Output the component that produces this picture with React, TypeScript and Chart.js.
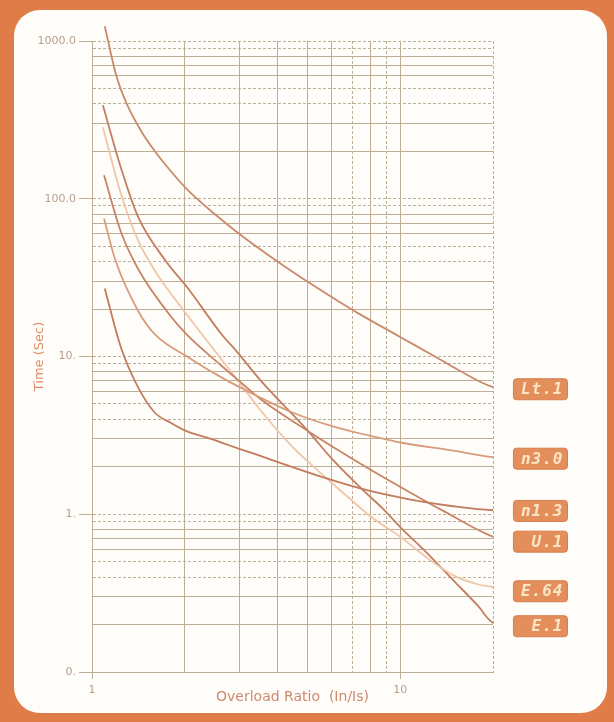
import React, { useEffect, useRef } from "react";
import { Chart, registerables } from "chart.js";

Chart.register(...registerables);

// ---- Data ----
const SERIES_NAMES = ["Lt.1", "n3.0", "n1.3", "U.1", "E.64", "E.1"];

const LT1_X = [1.1, 1.2, 1.3, 1.45, 1.6, 1.8, 2.05, 2.5, 3.0, 3.73, 4.73, 6.06, 7.41, 10, 13.7, 15.3, 20, 23.3];
const LT1_Y = [1240, 600, 395, 265, 200, 150, 113, 80, 60, 44, 32, 23.5, 18.5, 13.3, 9.4, 8.3, 6.4, 6.2];

const N30_X = [1.094, 1.19, 1.41, 1.6, 2.05, 2.62, 3.51, 4.49, 5.79, 7.41, 8.8, 10, 14.5, 20, 23.3];
const N30_Y = [75, 41, 19.5, 13.8, 9.9, 7.4, 5.5, 4.4, 3.7, 3.25, 3.02, 2.85, 2.55, 2.3, 2.25];

const N13_X = [1.1, 1.24, 1.41, 1.6, 1.8, 2.0, 2.5, 3.0, 3.5, 4.5, 5.8, 7.8, 10.8, 15.7, 20, 23.3];
const N13_Y = [27, 11.5, 6.4, 4.4, 3.8, 3.4, 2.95, 2.6, 2.35, 1.98, 1.68, 1.42, 1.24, 1.11, 1.06, 1.05];

const U1_X = [1.094, 1.24, 1.41, 1.8, 2.05, 2.62, 3.0, 3.51, 5.1, 7.41, 10.8, 13.8, 20, 23.3];
const U1_Y = [141, 62, 36, 18, 13.5, 8.8, 7, 5.4, 3.3, 2.1, 1.37, 1.05, 0.72, 0.67];

const E64_X = [1.085, 1.15, 1.24, 1.41, 1.6, 2.05, 2.33, 2.98, 3.51, 4.49, 5.79, 6.88, 8.0, 10, 12.2, 14.9, 17.8, 20, 23.3];
const E64_Y = [284, 184, 108, 54.6, 35, 18, 13, 7.0, 4.6, 2.65, 1.68, 1.25, 0.97, 0.72, 0.53, 0.41, 0.36, 0.345, 0.325];

const E1_X = [1.085, 1.15, 1.24, 1.41, 1.74, 2.05, 2.62, 2.98, 3.51, 5.0, 6.06, 7.41, 8.8, 10, 12.2, 14.9, 17.8, 20, 23.3];
const E1_Y = [392, 261, 158, 77, 40, 27, 14, 10.5, 7.1, 3.4, 2.2, 1.48, 1.08, 0.83, 0.57, 0.38, 0.265, 0.205, 0.195];

const SERIES_X = [LT1_X, N30_X, N13_X, U1_X, E64_X, E1_X];
const SERIES_Y = [LT1_Y, N30_Y, N13_Y, U1_Y, E64_Y, E1_Y];
const SERIES_COLORS = ["#c98a6c", "#d89c7c", "#c27b5c", "#c88466", "#efc6a8", "#c37d60"];

// Grid / tick values
const X_GRID = [1, 2, 3, 4, 5, 6, 7, 8, 9, 10, 20];
const X_TICK_LABELS: Record<string, string> = { "1": "1", "10": "10" };
const Y_DECADES = [0.1, 1, 10, 100];
const Y_MANTISSAS = [1, 2, 3, 4, 5, 6, 7, 8, 9];
const Y_TICK_LABELS: Record<string, string> = {
  "1000": "1000.0",
  "100": "100.0",
  "10": "10.",
  "1": "1.",
  "0.1": "0.",
};
const X_DASHED = [7, 9, 20];
const Y_DASHED_MANTISSA = [1, 4, 5, 9];

const Y_GRID: number[] = [];
Y_DECADES.forEach((d) => Y_MANTISSAS.forEach((m) => Y_GRID.push(Number((m * d).toPrecision(3)))));
Y_GRID.push(1000);

const GRID_COLOR = "#bdae98";
const TICK_COLOR = "#b89d8d";

function mantissa(v: number) {
  const e = Math.floor(Math.log10(v) + 1e-9);
  return Math.round(v / Math.pow(10, e));
}

const labelPlugin = {
  id: "curveLabels",
  afterDatasetsDraw(chart: any) {
    const ctx = chart.ctx as CanvasRenderingContext2D;
    chart.data.datasets.forEach((ds: any, i: number) => {
      const meta = chart.getDatasetMeta(i);
      const p = meta.data[meta.data.length - 1];
      if (!p) return;
      const w = 54;
      const h = 21;
      const x = p.x;
      const y = p.y;
      ctx.save();
      ctx.beginPath();
      (ctx as any).roundRect(x, y - h / 2, w, h, 3);
      ctx.fillStyle = "#e48e5c";
      ctx.fill();
      ctx.lineWidth = 1;
      ctx.strokeStyle = "#d97c4c";
      ctx.stroke();
      ctx.fillStyle = "#fae6c4";
      ctx.font = 'italic bold 16px "DejaVu Sans Mono"';
      ctx.textAlign = "right";
      ctx.textBaseline = "middle";
      try {
        (ctx as any).letterSpacing = "1px";
      } catch (e) {}
      ctx.fillText(ds.label, x + w - 4, y + 1);
      ctx.restore();
    });
  },
};

export default function App() {
  const canvasRef = useRef<HTMLCanvasElement | null>(null);

  useEffect(() => {
    const canvas = canvasRef.current;
    if (!canvas) return;
    const datasets = SERIES_NAMES.map((name, i) => ({
      label: name,
      data: SERIES_X[i].map((x, j) => ({ x, y: SERIES_Y[i][j] })),
      borderColor: SERIES_COLORS[i],
      backgroundColor: SERIES_COLORS[i],
      borderWidth: 1.8,
      pointRadius: 0,
      cubicInterpolationMode: "monotone" as const,
      clip: false as any,
      fill: false,
    }));

    const chart = new Chart(canvas, {
      type: "line",
      data: { datasets },
      plugins: [labelPlugin],
      options: {
        animation: false,
        responsive: false,
        events: [],
        layout: { padding: { left: 0, right: 121, top: 41, bottom: 0 } },
        plugins: { legend: { display: false }, tooltip: { enabled: false } },
        scales: {
          x: {
            type: "logarithmic",
            min: 1,
            max: 20,
            afterBuildTicks: (s: any) => {
              s.ticks = X_GRID.map((v) => ({ value: v }));
            },
            afterFit: (s: any) => {
              s.height = 50;
            },
            ticks: {
              autoSkip: false,
              maxRotation: 0,
              padding: 5,
              color: TICK_COLOR,
              font: { family: "DejaVu Sans", size: 11 },
              callback: (v: any) => X_TICK_LABELS[String(v)] ?? "",
            },
            grid: {
              color: GRID_COLOR,
              lineWidth: 1,
              tickLength: 7,
              tickColor: (c: any) =>
                c.tick && (c.tick.value === 1 || c.tick.value === 10) ? GRID_COLOR : "rgba(0,0,0,0)",
            },
            border: {
              display: true,
              color: GRID_COLOR,
              dash: (c: any) => (c.tick && X_DASHED.includes(c.tick.value) ? [3, 2] : []),
            },
            title: {
              display: true,
              text: "Overload Ratio  (In/Is)",
              color: "#cc8870",
              font: { family: "DejaVu Sans", size: 14 },
              padding: { top: 0, bottom: 16 },
            },
          },
          y: {
            type: "logarithmic",
            min: 0.1,
            max: 1000,
            afterBuildTicks: (s: any) => {
              s.ticks = Y_GRID.map((v) => ({ value: v }));
            },
            afterFit: (s: any) => {
              s.width = 92;
            },
            ticks: {
              autoSkip: false,
              padding: 3,
              color: TICK_COLOR,
              font: { family: "DejaVu Sans", size: 11 },
              callback: (v: any) => Y_TICK_LABELS[String(v)] ?? "",
            },
            grid: {
              color: GRID_COLOR,
              lineWidth: 1,
              tickLength: 13,
              tickColor: (c: any) =>
                c.tick && Y_TICK_LABELS[String(c.tick.value)] ? GRID_COLOR : "rgba(0,0,0,0)",
            },
            border: {
              display: true,
              color: GRID_COLOR,
              dash: (c: any) =>
                c.tick && Y_DASHED_MANTISSA.includes(mantissa(c.tick.value)) ? [3, 2] : [],
            },
            title: {
              display: true,
              text: "Time (Sec)",
              color: "#e08d66",
              font: { family: "DejaVu Sans", size: 13 },
              padding: { top: 32, bottom: 0 },
            },
          },
        },
      },
    } as any);

    return () => chart.destroy();
  }, []);

  return (
    <div
      style={{
        position: "fixed",
        left: 0,
        top: 0,
        width: 614,
        height: 722,
        background: "#e07c48",
        overflow: "hidden",
      }}
    >
      <div
        style={{
          position: "absolute",
          left: 14,
          top: 10,
          width: 593,
          height: 703,
          background: "#fffdf9",
          borderRadius: 26,
        }}
      />
      <canvas
        ref={canvasRef}
        width={614}
        height={722}
        style={{ position: "absolute", left: 0, top: 0, width: 614, height: 722 }}
      />
    </div>
  );
}
